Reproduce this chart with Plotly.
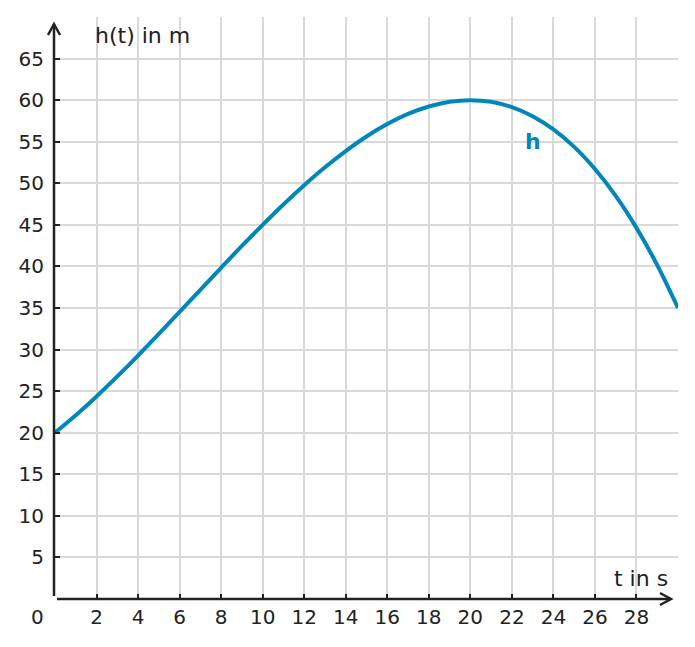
import plotly.graph_objects as go

# Data
t_values = list(range(0, 31))
h_values = [20.00, 22.10, 24.36, 26.77, 29.28, 31.88, 34.52, 37.19, 39.84, 42.46,
            45.00, 47.45, 49.76, 51.92, 53.88, 55.63, 57.12, 58.34, 59.24, 59.81,
            60.00, 59.80, 59.16, 58.07, 56.48, 54.38, 51.72, 48.49, 44.64, 40.16, 35.00]
x_ticks = list(range(2, 29, 2))
y_ticks = list(range(5, 66, 5))
series_name = "h"
x_title = "t in s"
y_title = "h(t) in m"

FONT = "DejaVu Sans"
DARK = "#222222"
BLUE = "#0086ba"
GRID = "#d9d9d9"
FS = 20
TFS = 22

fig = go.Figure()
fig.add_trace(go.Scatter(x=t_values, y=h_values, mode="lines",
                         line=dict(color=BLUE, width=4, shape="spline", smoothing=1.0),
                         name=series_name, showlegend=False, hoverinfo="skip"))

fig.update_layout(
    width=695, height=647,
    margin=dict(l=55, r=17, t=17, b=48),
    plot_bgcolor="white", paper_bgcolor="white",
    font=dict(family=FONT, size=FS, color=DARK),
    xaxis=dict(range=[0, 30], tickvals=x_ticks, ticktext=[str(v) for v in x_ticks],
               showgrid=True, gridcolor=GRID, gridwidth=2, zeroline=False,
               showline=False, ticks="inside", ticklen=5, tickwidth=2, tickcolor=DARK,
               tickfont=dict(family=FONT, size=FS, color=DARK), ticklabelstandoff=4,
               fixedrange=True),
    yaxis=dict(range=[0, 70], tickvals=y_ticks, ticktext=[str(v) for v in y_ticks],
               showgrid=True, gridcolor=GRID, gridwidth=2, zeroline=False,
               showline=False, ticks="inside", ticklen=5, tickwidth=2, tickcolor=DARK,
               tickfont=dict(family=FONT, size=FS, color=DARK), ticklabelstandoff=10,
               fixedrange=True),
)

# axes with arrows (pixel geometry anchored at the plot origin, paper refs to avoid clipping)
common = dict(type="path", xref="paper", yref="paper", xsizemode="pixel", ysizemode="pixel",
              xanchor=0, yanchor=0, line=dict(color=DARK, width=2.5), layer="above")
fig.add_shape(path="M -1,3 L -1,575", **common)
fig.add_shape(path="M -7,564 L -1,575 L 5,564", **common)
fig.add_shape(path="M 2,0 L 616,0", **common)
fig.add_shape(path="M 605,6 L 616,0 L 605,-6", **common)

# labels
fig.add_annotation(x=0, y=0, xref="paper", yref="paper", text="0", showarrow=False,
                   xanchor="center", yanchor="middle", xshift=-18, yshift=-18,
                   font=dict(family=FONT, size=FS, color=DARK))
fig.add_annotation(x=0, y=1.0, xref="paper", yref="paper", text=y_title,
                   showarrow=False, xanchor="left", yanchor="middle", xshift=38, yshift=-18,
                   font=dict(family=FONT, size=TFS, color=DARK))
fig.add_annotation(x=1, y=0, xref="paper", yref="paper", text=x_title,
                   showarrow=False, xanchor="right", yanchor="middle", xshift=-8, yshift=21,
                   font=dict(family=FONT, size=TFS, color=DARK))
fig.add_annotation(x=23, y=55, xref="x", yref="y", text="<b>" + series_name + "</b>",
                   showarrow=False, font=dict(family=FONT, size=TFS, color=BLUE))

fig.write_html("out.html")
